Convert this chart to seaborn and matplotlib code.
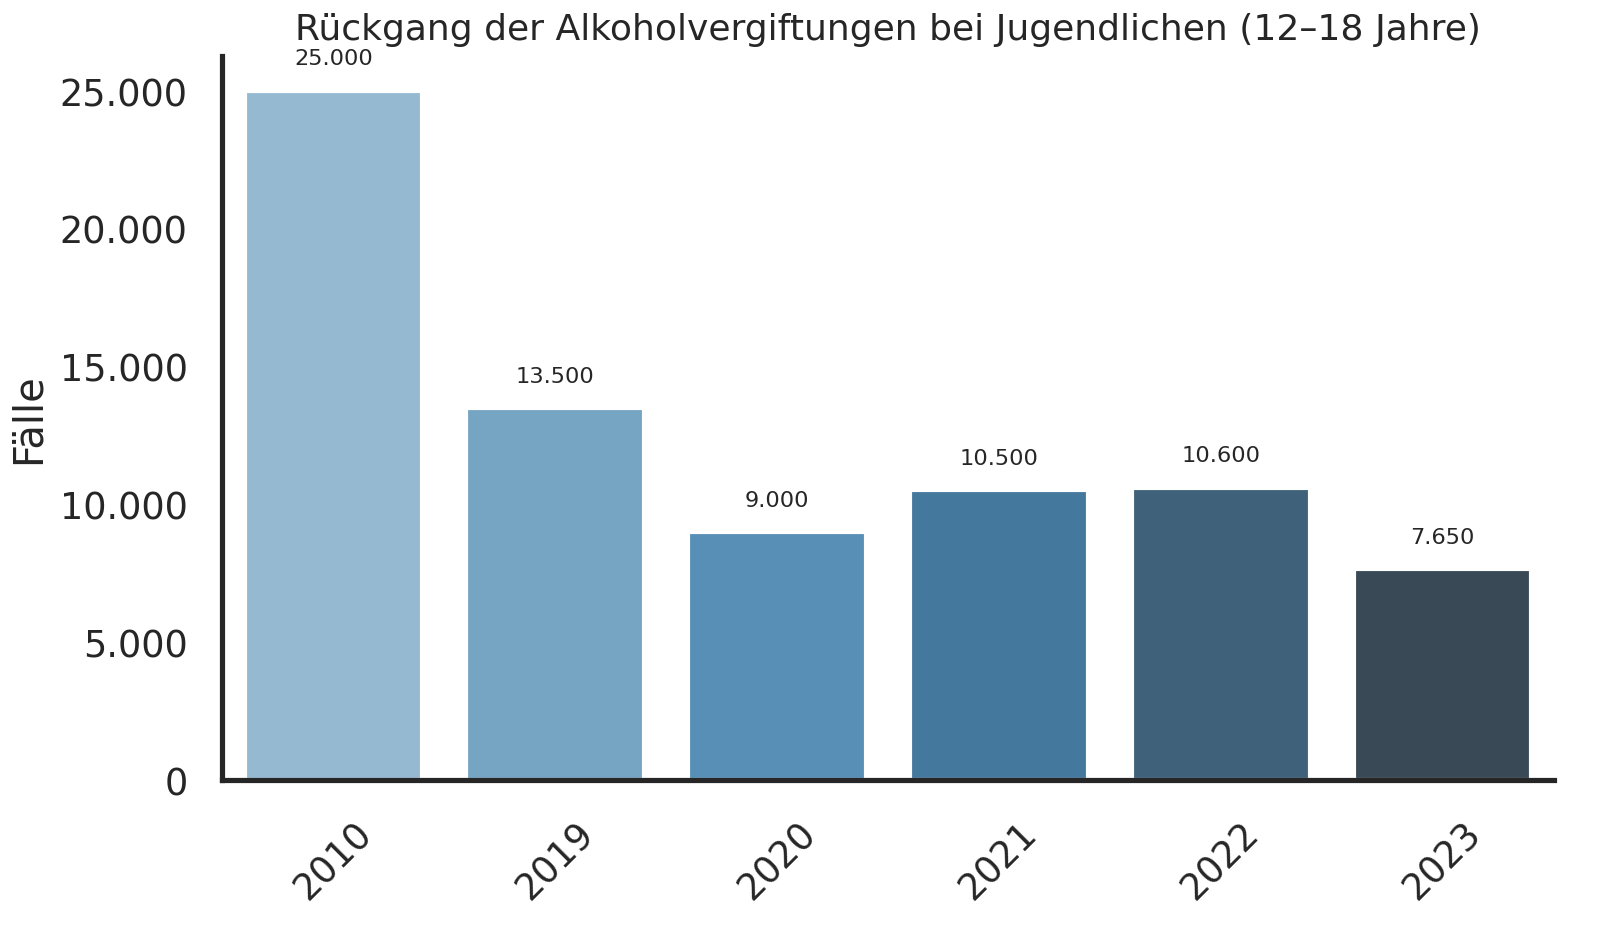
import matplotlib
matplotlib.use("Agg")
import matplotlib.pyplot as plt
import seaborn as sns
import pandas as pd
from matplotlib.ticker import FuncFormatter

years = ["2010", "2019", "2020", "2021", "2022", "2023"]
cases = [25000, 13500, 9000, 10500, 10600, 7650]

def de_fmt(v):
    return f"{int(round(v)):,}".replace(",", ".")

sns.set_theme(style="white", context="talk", font_scale=0.8)
plt.rcParams['font.family'] = ['DejaVu Sans']

df = pd.DataFrame({"Jahr": years, "Fälle": cases})

fig, ax = plt.subplots(figsize=(8, 4.685), dpi=200)
sns.barplot(data=df, x="Jahr", y="Fälle", hue="Jahr", palette="Blues_d",
            legend=False, ax=ax)
sns.despine(ax=ax)

for p, v in zip(ax.patches, cases):
    ax.annotate(de_fmt(v), (p.get_x() + p.get_width() / 2, p.get_height()),
                xytext=(0, 8), textcoords="offset points",
                ha="center", va="bottom", fontsize=8.1, color="#262626")

ax.yaxis.set_major_formatter(FuncFormatter(lambda v, pos: de_fmt(v)))
ax.set_ylim(0, 26250)
ax.set_xlabel("")
ax.set_ylabel("Fälle", fontsize=14.4)
ax.tick_params(axis="both", labelsize=13.2)
ax.set_title("Rückgang der Alkoholvergiftungen bei Jugendlichen (12–18 Jahre)", fontsize=13)
plt.setp(ax.get_xticklabels(), rotation=45)

fig.subplots_adjust(left=0.139, right=0.971, top=0.939, bottom=0.1665)
fig.savefig("out.png", dpi=200)
